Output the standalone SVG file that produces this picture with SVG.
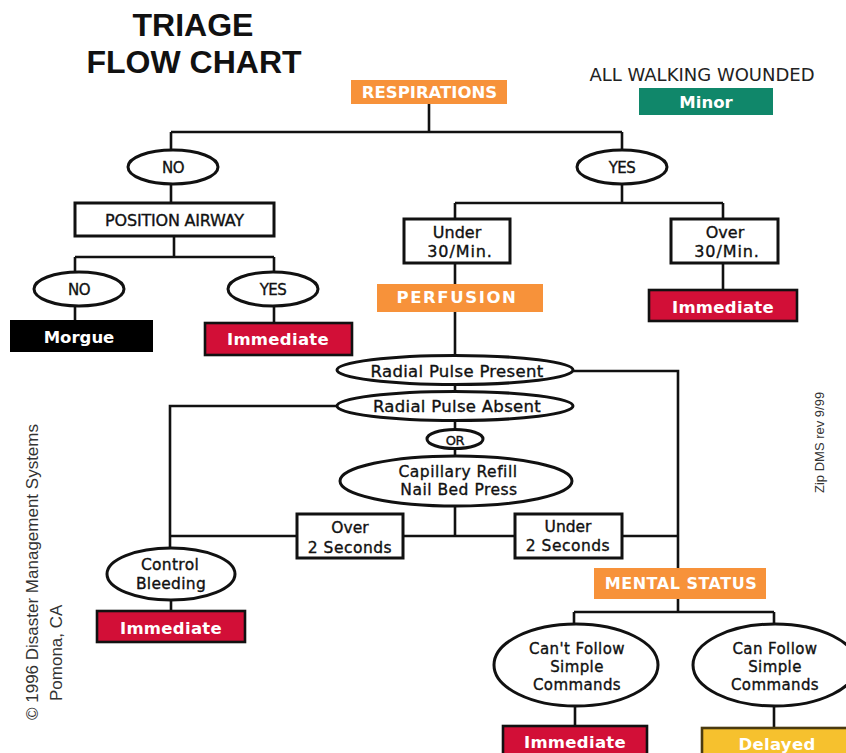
<svg xmlns="http://www.w3.org/2000/svg" width="846" height="753" viewBox="0 0 846 753">
<style>
.ln{stroke:#111;stroke-width:2.6;fill:none}
.ov{fill:#fff;stroke:#111;stroke-width:3}
.bx{fill:#fff;stroke:#111;stroke-width:3}
.t{font-family:"DejaVu Sans",sans-serif;fill:#111;text-anchor:middle;stroke:#111;stroke-width:0.35}
.w{font-family:"DejaVu Sans",sans-serif;font-weight:bold;fill:#fff;text-anchor:middle}
.red{fill:#D20F37;stroke:#111;stroke-width:2.6}
.org{fill:#F7923A}
.ttl{font-family:"Liberation Sans",Arial,sans-serif;font-weight:bold;font-size:32px;fill:#111;text-anchor:middle}
.rot{font-family:"Liberation Sans",Arial,sans-serif;fill:#333}
</style>
<rect width="846" height="753" fill="#fff"/>

<g id="connectors">
  <path class="ln" d="M429,104 V132 M171,132 H622 M171,132 V150 M622,132 V150"/>
  <path class="ln" d="M171,185 V203 M174,236 V257 M75,257 H274 M75,257 V272 M274,257 V272 M75,306 V320 M274,306 V323"/>
  <path class="ln" d="M622,184 V203 M455,203 H723 M455,203 V219 M723,203 V219 M455,263 V284 M723,263 V290 M455,312 V356"/>
  <path class="ln" d="M455,384 V392 M455,420 V430 M455,448 V456 M455,506 V536"/>
  <path class="ln" d="M573,371 H678 V568"/>
  <path class="ln" d="M337,406 H170 V548 M170,536 H678 M171,600 V611"/>
  <path class="ln" d="M678,599 V612 M574,612 H774 M574,612 V624 M774,612 V624 M575,706 V726 M774,706 V728"/>
</g>

<g id="title">
  <text class="ttl" x="193" y="36">TRIAGE</text>
  <text class="ttl" x="194" y="73">FLOW CHART</text>
</g>

<g id="respirations">
  <rect class="org" x="351" y="80" width="156" height="24"/>
  <text class="w" x="429.5" y="98" font-size="16.5">RESPIRATIONS</text>
</g>

<g id="walking">
  <text x="702" y="81" font-family="DejaVu Sans, sans-serif" font-size="18" fill="#222" text-anchor="middle">ALL WALKING WOUNDED</text>
</g>
<g id="minor">
  <rect x="639" y="88" width="134" height="27" fill="#10876A"/>
  <text class="w" x="706" y="108" font-size="16.5">Minor</text>
</g>

<g id="no1">
  <ellipse class="ov" cx="173" cy="167" rx="45" ry="17"/>
  <text class="t" x="173" y="173" font-size="15" letter-spacing="-0.5">NO</text>
</g>
<g id="yes1">
  <ellipse class="ov" cx="622" cy="167" rx="45" ry="17"/>
  <text class="t" x="622" y="173" font-size="15" letter-spacing="-0.5">YES</text>
</g>

<g id="position-airway">
  <rect class="bx" x="75" y="203" width="199" height="33"/>
  <text class="t" x="174.5" y="226" font-size="16" letter-spacing="-0.2">POSITION AIRWAY</text>
</g>

<g id="no2">
  <ellipse class="ov" cx="79" cy="289" rx="45" ry="17"/>
  <text class="t" x="79" y="295" font-size="15" letter-spacing="-0.5">NO</text>
</g>
<g id="yes2">
  <ellipse class="ov" cx="273" cy="289" rx="45" ry="17"/>
  <text class="t" x="273" y="295" font-size="15" letter-spacing="-0.5">YES</text>
</g>

<g id="morgue">
  <rect x="10" y="320" width="143" height="32" fill="#000"/>
  <text class="w" x="79" y="343" font-size="16.5">Morgue</text>
</g>
<g id="immediate1">
  <rect class="red" x="205" y="323" width="147" height="32"/>
  <text class="w" x="278" y="345" font-size="16.5" letter-spacing="0.3">Immediate</text>
</g>

<g id="under30">
  <rect class="bx" x="404" y="219" width="106" height="44"/>
  <text class="t" x="457" y="238" font-size="16">Under</text>
  <text class="t" x="460" y="257" font-size="16" letter-spacing="0.9">30/Min.</text>
</g>
<g id="over30">
  <rect class="bx" x="671" y="219" width="107" height="44"/>
  <text class="t" x="725" y="238" font-size="16">Over</text>
  <text class="t" x="727" y="257" font-size="16" letter-spacing="0.9">30/Min.</text>
</g>

<g id="perfusion">
  <rect class="org" x="377" y="284" width="166" height="28"/>
  <text class="w" x="457" y="303" font-size="16.5" letter-spacing="1.6">PERFUSION</text>
</g>
<g id="immediate2">
  <rect class="red" x="649" y="290" width="148" height="31"/>
  <text class="w" x="723" y="313" font-size="16.5" letter-spacing="0.3">Immediate</text>
</g>

<g id="pulse-present">
  <ellipse class="ov" cx="455" cy="370" rx="118" ry="14.5"/>
  <text class="t" x="457" y="377" font-size="16.5" letter-spacing="0.3">Radial Pulse Present</text>
</g>
<g id="pulse-absent">
  <ellipse class="ov" cx="455" cy="406" rx="118" ry="14.5"/>
  <text class="t" x="457" y="412" font-size="16.5" letter-spacing="0.3">Radial Pulse Absent</text>
</g>
<g id="or">
  <ellipse class="ov" cx="455" cy="439" rx="28" ry="9.5"/>
  <text class="t" x="455" y="444.5" font-size="13" letter-spacing="-0.4">OR</text>
</g>
<g id="capillary">
  <ellipse class="ov" cx="456" cy="481" rx="116" ry="25"/>
  <text class="t" x="458" y="477" font-size="15.5" letter-spacing="0.5">Capillary Refill</text>
  <text class="t" x="459" y="495" font-size="15.5" letter-spacing="0.5">Nail Bed Press</text>
</g>

<g id="over2">
  <rect class="bx" x="297" y="514" width="106" height="44"/>
  <text class="t" x="350" y="533" font-size="15.5">Over</text>
  <text class="t" x="350" y="553" font-size="15.5" letter-spacing="0.5">2 Seconds</text>
</g>
<g id="under2">
  <rect class="bx" x="515" y="514" width="107" height="44"/>
  <text class="t" x="568" y="532" font-size="15.5">Under</text>
  <text class="t" x="568" y="551" font-size="15.5" letter-spacing="0.5">2 Seconds</text>
</g>

<g id="control-bleeding">
  <ellipse class="ov" cx="171" cy="574" rx="64" ry="26"/>
  <text class="t" x="170" y="570" font-size="15.5" letter-spacing="0.3">Control</text>
  <text class="t" x="171" y="589" font-size="15.5" letter-spacing="0.3">Bleeding</text>
</g>
<g id="immediate3">
  <rect class="red" x="97" y="611" width="148" height="31"/>
  <text class="w" x="171" y="634" font-size="16.5" letter-spacing="0.3">Immediate</text>
</g>

<g id="mental-status">
  <rect class="org" x="594" y="568" width="172" height="31"/>
  <text class="w" x="681" y="589" font-size="16" letter-spacing="0.5">MENTAL STATUS</text>
</g>

<g id="cant-follow">
  <ellipse class="ov" cx="576" cy="665" rx="82" ry="41"/>
  <text class="t" x="577" y="654" font-size="15" letter-spacing="0.4">Can't Follow</text>
  <text class="t" x="577" y="672" font-size="15" letter-spacing="0.4">Simple</text>
  <text class="t" x="577" y="690" font-size="15" letter-spacing="0.4">Commands</text>
</g>
<g id="can-follow">
  <ellipse class="ov" cx="775" cy="665" rx="82" ry="41"/>
  <text class="t" x="775" y="654" font-size="15" letter-spacing="0.4">Can Follow</text>
  <text class="t" x="775" y="672" font-size="15" letter-spacing="0.4">Simple</text>
  <text class="t" x="775" y="690" font-size="15" letter-spacing="0.4">Commands</text>
</g>

<g id="immediate4">
  <rect class="red" x="503" y="726" width="144" height="32"/>
  <text class="w" x="575" y="748" font-size="16.5" letter-spacing="0.3">Immediate</text>
</g>
<g id="delayed">
  <rect x="702" y="728" width="150" height="32" fill="#F6C12E" stroke="#4a3a10" stroke-width="2.6"/>
  <text class="w" x="777" y="750" font-size="16.5" letter-spacing="0.3">Delayed</text>
</g>

<g id="credits">
  <text class="rot" font-size="17" transform="translate(38,720) rotate(-90)">© 1996 Disaster Management Systems</text>
  <text class="rot" font-size="17" transform="translate(62,701) rotate(-90)">Pomona, CA</text>
  <text class="rot" font-size="13" transform="translate(824,493) rotate(-90)">Zip DMS rev 9/99</text>
</g>
</svg>
